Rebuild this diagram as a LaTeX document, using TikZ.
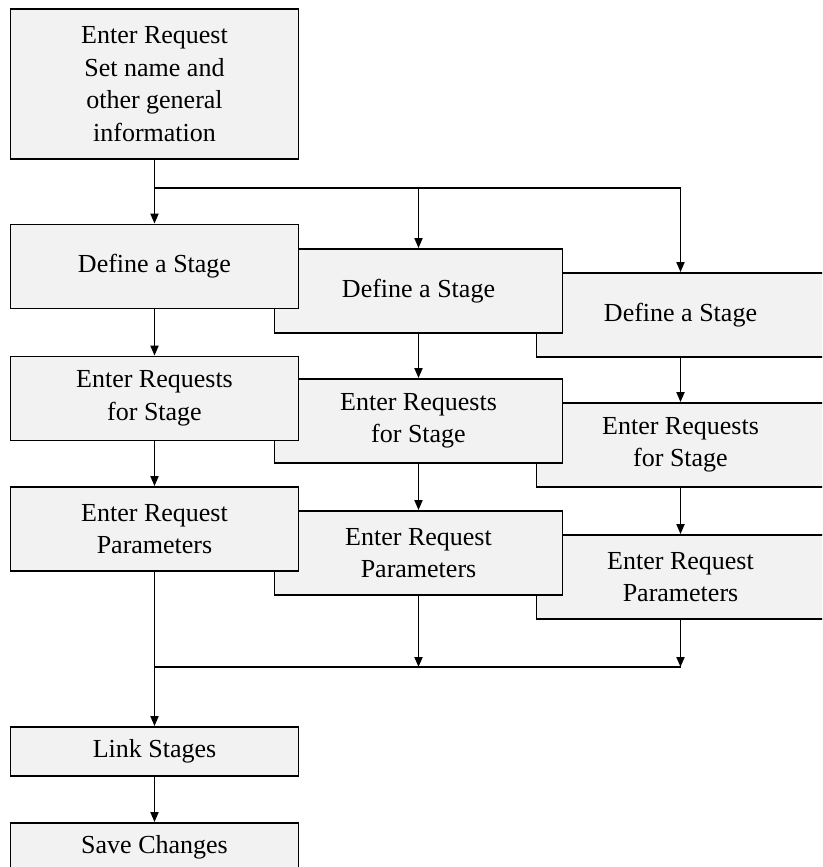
\documentclass[tikz,border=0pt]{standalone}
\usepackage{fontspec}
\setmainfont{Liberation Serif}
\usetikzlibrary{arrows.meta}
\definecolor{boxfill}{HTML}{F2F2F2}
\begin{document}
\begin{tikzpicture}[x=1pt, y=-1pt,
    box/.style={draw, fill=boxfill, line width=1.8pt, minimum width=288pt, minimum height=84pt,
                inner sep=0pt, align=center, font=\fontsize{26}{32.5}\selectfont},
    arr/.style={-{Triangle[length=10pt, width=8pt]}, line width=1.8pt},
    ln/.style={line width=1.8pt},
  ]
  \useasboundingbox (0,0) rectangle (822,867);
  \clip (0,0) rectangle (822,867);

  % Start
  \node[box, minimum height=150pt] (req) at (154.5,84) {Enter Request\\Set name and\\other general\\information};

  % Third column (drawn first, lies underneath)
  \node[box] (def3) at (680.5,315) {Define a Stage};
  \node[box] (ent3) at (680.5,445) {Enter Requests\\for Stage};
  \node[box] (par3) at (680.5,577) {Enter Request\\Parameters};

  % Second column
  \node[box] (def2) at (418.5,291) {Define a Stage};
  \node[box] (ent2) at (418.5,421) {Enter Requests\\for Stage};
  \node[box] (par2) at (418.5,553) {Enter Request\\Parameters};

  % First column
  \node[box] (def1) at (154.5,266.5) {Define a Stage};
  \node[box] (ent1) at (154.5,398.5) {Enter Requests\\for Stage};
  \node[box] (par1) at (154.5,529) {Enter Request\\Parameters};

  % Finish
  \node[box, minimum height=49pt] (link) at (154.5,751.5) {Link Stages};
  \node[box, minimum height=49pt] (save) at (154.5,847.5) {Save Changes};

  % Split and merge points
  \coordinate (split) at (154.5,188);
  \coordinate (merge) at (154.5,667);

  % Fan out
  \draw[arr] (req) -- (def1);
  \draw[arr] (split) -| (def2);
  \draw[arr] (split) -| (def3);

  % Down each column
  \draw[arr] (def1) -- (ent1);
  \draw[arr] (ent1) -- (par1);
  \draw[arr] (def2) -- (ent2);
  \draw[arr] (ent2) -- (par2);
  \draw[arr] (def3) -- (ent3);
  \draw[arr] (ent3) -- (par3);

  % Join back
  \draw[arr] (par2) -- (par2 |- merge);
  \draw[arr] (par3) -- (par3 |- merge);
  \draw[ln] (merge) -- (par3 |- merge);
  \draw[arr] (par1) -- (link);
  \draw[arr] (link) -- (save);
\end{tikzpicture}
\end{document}
